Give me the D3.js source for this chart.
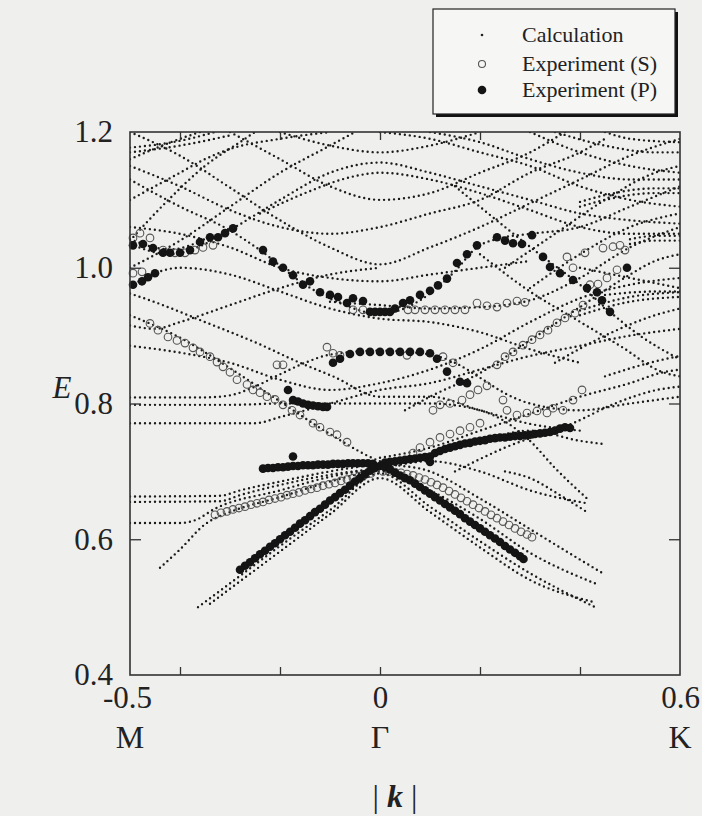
<!DOCTYPE html>
<html>
<head>
<meta charset="utf-8">
<script src="https://cdn.jsdelivr.net/npm/d3@7"></script>
<style>
body { margin: 0; background: #efefee; }
svg { display: block; font-family: "Liberation Serif", "Times New Roman", serif; }
</style>
</head>
<body>
<script>
// axis ticks and labels
var kTicks = [-0.4, -0.2, 0, 0.2, 0.4];
var kLabels = [-0.5, 0, 0.6];
var kPointNames = ["M", "\u0393", "K"];
var eTicks = [0.6, 0.8, 1.0];
var eLabels = [0.4, 0.6, 0.8, 1.0, 1.2];
var legendNames = ["Calculation", "Experiment (S)", "Experiment (P)"];

// calculated bands [k, E]
var calcBands = [
  // lower V around Gamma
  [[-0.364,0.50],[-0.3,0.535],[-0.2,0.59],[-0.1,0.643],[0,0.697],[0.1,0.648],[0.2,0.597],[0.3,0.55],[0.43,0.50]],
  [[-0.34,0.505],[-0.3,0.527],[-0.2,0.582],[-0.1,0.637],[0,0.69],[0.1,0.64],[0.2,0.588],[0.3,0.54],[0.43,0.507]],
  [[-0.44,0.558],[-0.4,0.585],[-0.35,0.622],[-0.3,0.64],[-0.2,0.662],[-0.1,0.685],[0,0.70],[0.1,0.672],[0.2,0.63],[0.3,0.58],[0.43,0.535]],
  [[-0.5,0.624],[-0.4,0.624],[-0.37,0.628],[-0.33,0.645],[-0.2,0.672],[-0.1,0.692],[0,0.705]],
  [[-0.5,0.655],[-0.32,0.656],[-0.28,0.665],[-0.2,0.68],[-0.1,0.695],[0,0.705],[0.1,0.715],[0.2,0.70],[0.3,0.672],[0.414,0.653]],
  [[-0.5,0.663],[-0.32,0.664],[-0.28,0.672],[-0.2,0.685],[-0.1,0.70],[0,0.712],[0.1,0.725],[0.2,0.745],[0.3,0.76],[0.4,0.745],[0.45,0.74]],
  [[0.25,0.70],[0.3,0.69],[0.36,0.665],[0.414,0.64]],
  // middle region
  [[-0.5,0.93],[-0.4,0.897],[-0.3,0.852],[-0.2,0.803],[-0.1,0.755],[0,0.715],[0.1,0.70],[0.2,0.66],[0.3,0.615],[0.4,0.57],[0.45,0.548]],
  [[-0.5,0.962],[-0.46,0.952],[-0.35,0.92],[-0.246,0.889],[-0.16,0.86],[-0.094,0.84],[0,0.81],[0.1,0.81],[0.2,0.79],[0.3,0.77],[0.4,0.76]],
  [[-0.5,0.809],[-0.35,0.809],[-0.3,0.812],[-0.25,0.825],[-0.2,0.843],[-0.15,0.86],[-0.1,0.872],[0,0.878],[0.1,0.872],[0.15,0.86],[0.2,0.838],[0.25,0.815],[0.3,0.80],[0.4,0.79],[0.5,0.80],[0.6,0.81]],
  [[-0.5,0.798],[-0.3,0.798],[-0.2,0.80],[-0.1,0.80],[0,0.80],[0.1,0.80],[0.2,0.79],[0.3,0.745],[0.35,0.705],[0.414,0.66]],
  [[-0.5,0.771],[-0.25,0.771],[-0.2,0.78],[-0.1,0.80],[0,0.82],[0.1,0.83],[0.2,0.85],[0.3,0.87],[0.4,0.885],[0.5,0.9],[0.6,0.91]],
  [[-0.5,0.915],[-0.45,0.91],[-0.4,0.92],[-0.3,0.945],[-0.2,0.97],[-0.1,0.99],[0,1.0]],
  [[-0.5,0.885],[-0.4,0.875],[-0.3,0.86],[-0.2,0.835],[-0.1,0.82],[0,0.83],[0.1,0.85],[0.2,0.88],[0.3,0.92],[0.4,0.955],[0.5,0.975],[0.6,0.985]],
  [[0,0.72],[0.1,0.735],[0.2,0.76],[0.3,0.785],[0.4,0.81],[0.5,0.83],[0.566,0.846],[0.6,0.85]],
  [[0.15,0.70],[0.25,0.735],[0.386,0.771],[0.47,0.80],[0.554,0.82],[0.6,0.825]],
  [[0.15,1.12],[0.25,1.06],[0.326,1.016],[0.4,0.975],[0.46,0.935],[0.52,0.90],[0.6,0.865]],
  [[0.2,1.02],[0.3,0.965],[0.394,0.923],[0.48,0.885],[0.566,0.846],[0.6,0.84]],
  [[0.05,0.79],[0.1,0.81],[0.2,0.845],[0.3,0.893],[0.4,0.942],[0.5,0.99],[0.55,1.01],[0.6,1.02]],
  [[-0.1,0.95],[0,0.945],[0.1,0.94],[0.2,0.942],[0.3,0.952],[0.4,0.985],[0.5,1.03],[0.6,1.06]],
  [[0.35,0.86],[0.45,0.90],[0.55,0.93],[0.6,0.94]],
  [[0.45,0.84],[0.55,0.862],[0.6,0.87]],
  [[0.4,0.93],[0.5,0.95],[0.6,0.957]],
  [[0.4,0.937],[0.5,0.957],[0.6,0.964]],
  // upper region
  [[-0.5,1.13],[-0.4,1.09],[-0.3,1.055],[-0.24,1.026],[-0.15,0.975],[-0.08,0.948],[0,0.932],[0.08,0.952],[0.15,0.995],[0.194,1.03],[0.25,1.045],[0.3,1.05],[0.4,1.06],[0.5,1.09],[0.6,1.12]],
  [[-0.5,1.035],[-0.42,1.02],[-0.35,1.035],[-0.294,1.058],[-0.2,1.10],[-0.1,1.14],[0,1.155],[0.1,1.14],[0.2,1.12],[0.3,1.10],[0.4,1.08],[0.5,1.07],[0.6,1.065]],
  [[-0.5,1.042],[-0.42,1.027],[-0.35,1.042]],
  [[-0.5,0.972],[-0.45,0.992],[-0.4,1.0],[-0.3,0.99],[-0.2,0.965],[-0.1,0.94],[0,0.925],[0.1,0.92],[0.2,0.905],[0.3,0.88],[0.4,0.86]],
  [[-0.5,1.2],[-0.4,1.165],[-0.3,1.118],[-0.2,1.07],[-0.1,1.03],[0,1.005],[0.1,1.03],[0.2,1.06],[0.3,1.095],[0.4,1.13],[0.5,1.165],[0.6,1.19]],
  [[-0.5,1.04],[-0.43,1.095],[-0.35,1.15],[-0.27,1.19],[-0.25,1.2]],
  [[-0.5,1.15],[-0.4,1.12],[-0.3,1.085],[-0.2,1.06],[-0.1,1.05],[0,1.06],[0.1,1.08],[0.2,1.10],[0.3,1.14],[0.4,1.17],[0.45,1.19]],
  [[-0.5,1.17],[-0.4,1.18],[-0.3,1.195]],
  [[-0.5,1.177],[-0.4,1.187],[-0.33,1.2]],
  [[-0.2,1.2],[-0.1,1.18],[0,1.17],[0.1,1.18],[0.2,1.2]],
  [[-0.24,1.08],[-0.15,1.11],[-0.05,1.135],[0,1.14],[0.1,1.13],[0.2,1.11],[0.3,1.085],[0.4,1.06],[0.5,1.05],[0.6,1.05]],
  [[0.3,1.2],[0.4,1.17],[0.5,1.15],[0.6,1.14]],
  [[0.35,1.2],[0.45,1.18],[0.55,1.17],[0.6,1.17]],
  [[0.4,1.09],[0.45,1.10],[0.55,1.11],[0.6,1.11]],
  [[0.4,1.097],[0.45,1.107],[0.55,1.117],[0.6,1.117]],
  [[0.4,1.0],[0.5,0.985],[0.6,0.97]],
  [[0.45,0.96],[0.55,0.965],[0.6,0.965]],
  [[-0.5,1.1],[-0.45,1.12],[-0.4,1.14],[-0.35,1.16],[-0.3,1.175],[-0.2,1.19],[-0.1,1.2]],
  [[-0.5,1.16],[-0.4,1.19],[-0.36,1.2]],
  [[-0.5,1.0],[-0.4,1.04],[-0.3,1.09],[-0.2,1.14],[-0.1,1.18],[-0.05,1.2]],
  [[-0.5,1.06],[-0.4,1.05],[-0.3,1.03],[-0.2,1.0],[-0.1,0.985],[0,0.98],[0.1,0.99],[0.2,1.0],[0.3,1.01]],
  [[-0.3,1.2],[-0.2,1.16],[-0.1,1.12],[0,1.10],[0.1,1.11],[0.2,1.14],[0.3,1.17],[0.37,1.2]],
  [[0,1.2],[0.1,1.19],[0.2,1.17],[0.3,1.15],[0.4,1.12],[0.5,1.10],[0.6,1.09]],
  [[0.1,1.2],[0.2,1.185],[0.3,1.16],[0.4,1.14],[0.5,1.13],[0.6,1.13]],
  [[0.25,1.0],[0.35,1.05],[0.45,1.10],[0.55,1.14],[0.6,1.15]],
  [[0.3,0.97],[0.4,1.02],[0.5,1.06],[0.6,1.08]],
  [[0.45,1.2],[0.5,1.19],[0.6,1.185]],
  [[0.5,1.035],[0.55,1.04],[0.6,1.04]],
  [[0.5,1.042],[0.55,1.047],[0.6,1.047]]
];

// experiment, S polarisation (open circles) [k, E]
var expS = [
  [-0.494,1.044],[-0.48,1.051],[-0.46,1.044],[-0.494,0.992],[-0.476,0.994],
  [-0.434,1.026],[-0.41,1.022],[-0.39,1.022],[-0.37,1.026],[-0.354,1.03],[-0.334,1.033],
  [-0.46,0.918],[-0.444,0.908],[-0.424,0.898],[-0.406,0.893],[-0.39,0.889],[-0.374,0.882],[-0.36,0.876],[-0.34,0.869],
  [-0.326,0.861],[-0.314,0.854],[-0.3,0.846],[-0.286,0.835],[-0.266,0.828],[-0.254,0.82],[-0.24,0.816],[-0.226,0.81],
  [-0.21,0.806],[-0.194,0.798],[-0.176,0.79],[-0.16,0.783],[-0.134,0.771],[-0.12,0.765],[-0.1,0.758],[-0.086,0.754],[-0.066,0.743],
  [-0.206,0.857],[-0.194,0.857],[-0.106,0.883],[-0.094,0.874],[-0.08,0.871],[-0.054,0.938],[-0.034,0.938],
  [-0.33,0.636],[-0.318,0.639],[-0.306,0.641],[-0.294,0.644],[-0.282,0.646],[-0.27,0.648],[-0.258,0.651],[-0.246,0.653],
  [-0.234,0.655],[-0.222,0.658],[-0.21,0.66],[-0.198,0.662],[-0.186,0.665],[-0.174,0.667],[-0.162,0.669],[-0.15,0.672],
  [-0.138,0.674],[-0.126,0.676],[-0.114,0.679],[-0.102,0.681],[-0.09,0.683],[-0.078,0.686],[-0.066,0.688],[-0.054,0.69],
  [-0.042,0.693],[-0.03,0.695],[-0.018,0.697],
  [0.006,0.70],[0.018,0.70],[0.03,0.699],[0.042,0.698],[0.054,0.696],[0.066,0.694],[0.078,0.691],[0.09,0.688],[0.102,0.684],
  [0.114,0.68],[0.126,0.676],[0.138,0.671],[0.15,0.666],[0.162,0.661],[0.174,0.656],[0.186,0.651],[0.198,0.646],[0.21,0.641],
  [0.222,0.636],[0.234,0.631],[0.246,0.626],[0.258,0.621],[0.27,0.616],[0.282,0.611],[0.294,0.607],[0.304,0.603],
  [0.066,0.727],[0.08,0.735],[0.1,0.743],[0.12,0.75],[0.14,0.755],[0.16,0.76],[0.18,0.765],[0.2,0.771],
  [0.106,0.79],[0.12,0.798],[0.14,0.80],[0.164,0.805],[0.18,0.813],[0.196,0.82],[0.214,0.826],
  [0.246,0.805],[0.254,0.79],[0.274,0.783],[0.294,0.786],[0.314,0.789],[0.334,0.786],[0.346,0.793],[0.366,0.79],[0.386,0.805],[0.404,0.82],
  [0.234,0.857],[0.25,0.869],[0.266,0.876],[0.286,0.886],[0.304,0.894],[0.32,0.901],[0.336,0.908],[0.354,0.919],[0.37,0.926],[0.39,0.933],[0.406,0.945],
  [0.056,0.938],[0.07,0.938],[0.09,0.938],[0.11,0.938],[0.13,0.938],[0.15,0.938],[0.17,0.938],[0.194,0.948],[0.214,0.944],
  [0.234,0.942],[0.254,0.948],[0.274,0.951],[0.29,0.949],
  [0.054,0.871],[0.126,0.869],[0.146,0.86],
  [0.374,1.016],[0.386,1.0],[0.41,1.022],[0.446,1.029],[0.466,1.031],[0.48,1.033],[0.49,1.026],[0.474,0.997],[0.454,0.985],[0.436,0.976],[0.42,0.975]
];

// experiment, P polarisation (filled circles) [k, E]
var expP = [
  [-0.494,1.033],[-0.474,1.035],[-0.454,1.029],[-0.434,1.022],[-0.42,1.022],[-0.40,1.022],[-0.38,1.026],[-0.36,1.038],
  [-0.34,1.045],[-0.324,1.045],[-0.31,1.051],[-0.294,1.058],
  [-0.494,0.975],[-0.476,0.98],[-0.464,0.986],[-0.45,0.992],
  [-0.234,1.026],[-0.214,1.009],[-0.194,1.0],[-0.174,0.989],[-0.154,0.975],[-0.14,0.98],[-0.12,0.964],[-0.10,0.96],
  [-0.084,0.957],[-0.066,0.948],[-0.054,0.955],[-0.034,0.951],[-0.02,0.935],[-0.01,0.935],[0,0.935],[0.01,0.935],[0.02,0.935],
  [0.03,0.94],[0.046,0.948],[0.06,0.952],[0.08,0.96],[0.1,0.966],[0.116,0.974],[0.134,0.984],[0.154,1.007],[0.174,1.02],[0.194,1.033],
  [0.234,1.045],[0.25,1.04],[0.266,1.036],[0.284,1.035],[0.304,1.048],
  [0.326,1.016],[0.34,1.001],[0.36,0.992],[0.386,0.982],[0.414,0.97],[0.434,0.964],[0.444,0.952],[0.46,0.935],
  [0.494,1.0],
  [-0.094,0.86],[-0.08,0.866],[-0.06,0.873],[-0.04,0.876],[-0.02,0.876],[0,0.876],[0.02,0.876],[0.04,0.876],[0.06,0.876],
  [0.08,0.876],[0.1,0.874],[0.114,0.866],[0.134,0.847],[0.16,0.832],[0.174,0.83],
  [-0.184,0.82],[-0.174,0.805],[-0.164,0.803],[-0.154,0.80],[-0.144,0.798],[-0.134,0.797],[-0.124,0.796],[-0.114,0.795],[-0.106,0.795],
  [-0.234,0.704],[-0.224,0.705],[-0.214,0.705],[-0.204,0.706],[-0.194,0.706],[-0.184,0.707],[-0.174,0.708],[-0.164,0.708],
  [-0.154,0.709],[-0.144,0.709],[-0.134,0.709],[-0.124,0.71],[-0.114,0.71],[-0.104,0.71],[-0.094,0.711],[-0.084,0.711],
  [-0.074,0.711],[-0.064,0.712],[-0.054,0.712],[-0.044,0.712],[-0.034,0.712],[-0.024,0.712],[-0.014,0.711],[-0.174,0.722],
  [0.01,0.713],[0.02,0.714],[0.03,0.715],[0.04,0.716],[0.05,0.717],[0.06,0.718],[0.07,0.719],[0.08,0.72],[0.09,0.721],
  [0.10,0.722],[0.11,0.727],[0.12,0.73],[0.13,0.733],[0.14,0.735],[0.15,0.737],[0.16,0.739],[0.17,0.741],[0.18,0.742],
  [0.19,0.744],[0.20,0.745],[0.21,0.746],[0.22,0.748],[0.23,0.749],[0.24,0.75],[0.25,0.75],[0.26,0.751],[0.27,0.752],
  [0.28,0.752],[0.29,0.753],[0.30,0.754],[0.31,0.755],[0.32,0.756],[0.33,0.757],[0.34,0.758],[0.35,0.76],[0.36,0.763],
  [0.37,0.765],[0.38,0.764],[0.10,0.714],
  [-0.28,0.555],[-0.27,0.561],[-0.26,0.566],[-0.25,0.572],[-0.24,0.578],[-0.23,0.583],[-0.22,0.589],[-0.21,0.594],
  [-0.20,0.60],[-0.19,0.606],[-0.18,0.611],[-0.17,0.617],[-0.16,0.623],[-0.15,0.628],[-0.14,0.634],[-0.13,0.64],
  [-0.12,0.645],[-0.11,0.651],[-0.10,0.657],[-0.09,0.662],[-0.08,0.668],[-0.07,0.673],[-0.06,0.679],[-0.05,0.685],
  [-0.04,0.69],[-0.03,0.696],[-0.02,0.701],[-0.01,0.705],[0,0.708],
  [0.01,0.706],[0.02,0.703],[0.03,0.698],[0.04,0.694],[0.05,0.69],[0.06,0.687],[0.07,0.682],[0.08,0.677],[0.09,0.672],
  [0.10,0.667],[0.11,0.662],[0.12,0.657],[0.13,0.652],[0.14,0.647],[0.15,0.642],[0.16,0.637],[0.17,0.631],[0.18,0.626],
  [0.19,0.621],[0.20,0.616],[0.21,0.611],[0.22,0.606],[0.23,0.601],[0.24,0.596],[0.25,0.59],[0.26,0.585],[0.27,0.58],
  [0.28,0.575],[0.287,0.571]
];

var w = 702, h = 816;
var svg = d3.select("body").append("svg").attr("width", w).attr("height", h);

var x = d3.scaleLinear().domain([-0.5, 0.6]).range([130, 680]);
var y = d3.scaleLinear().domain([0.4, 1.2]).range([675, 132]);
var ink = "#222";

svg.append("clipPath").attr("id", "plot")
  .append("rect").attr("x", 130).attr("y", 132).attr("width", 550).attr("height", 543);

// calculated bands as dotted curves
var line = d3.line()
  .x(function(d){ return x(d[0]); })
  .y(function(d){ return y(d[1]); })
  .curve(d3.curveMonotoneX);

svg.append("g").attr("clip-path", "url(#plot)")
  .selectAll("path.calc")
  .data(calcBands)
  .enter()
  .append("path")
  .attr("class", "calc")
  .attr("d", line)
  .attr("fill", "none")
  .attr("stroke", "#1c1c1c")
  .attr("stroke-width", 2.4)
  .attr("stroke-linecap", "round")
  .attr("stroke-dasharray", "0 5");

// experiment points
svg.append("g").selectAll("circle.s")
  .data(expS).enter().append("circle")
  .attr("cx", function(d){ return x(d[0]); })
  .attr("cy", function(d){ return y(d[1]); })
  .attr("r", 3.8)
  .attr("fill", "none")
  .attr("stroke", "#555")
  .attr("stroke-width", 1.1);

svg.append("g").selectAll("circle.p")
  .data(expP).enter().append("circle")
  .attr("cx", function(d){ return x(d[0]); })
  .attr("cy", function(d){ return y(d[1]); })
  .attr("r", 4.3)
  .attr("fill", "#141414");

// frame
svg.append("rect").attr("x", 130).attr("y", 132).attr("width", 550).attr("height", 543)
  .attr("fill", "none").attr("stroke", "#333").attr("stroke-width", 1.6);

// inward ticks
function ticks(axis, pos){
  var g = svg.append("g").attr("transform", pos).call(axis);
  g.select(".domain").remove();
  g.selectAll("line").attr("stroke", "#333").attr("stroke-width", 1.3);
  return g;
}
ticks(d3.axisBottom(x).tickValues(kTicks).tickSize(-8).tickFormat(""), "translate(0,675)");
ticks(d3.axisTop(x).tickValues(kTicks).tickSize(-8).tickFormat(""), "translate(0,132)");
ticks(d3.axisLeft(y).tickValues(eTicks).tickSize(-11).tickFormat(""), "translate(130,0)");
ticks(d3.axisRight(y).tickValues(eTicks).tickSize(-11).tickFormat(""), "translate(680,0)");

// tick labels
var xl = svg.append("g").attr("transform", "translate(0,675)")
  .call(d3.axisBottom(x).tickValues(kLabels).tickSize(0).tickPadding(11)
    .tickFormat(function(d){ return String(d); }));
xl.select(".domain").remove();
xl.selectAll("text").attr("font-size", 31).attr("font-family", "Liberation Serif").attr("fill", ink)
  .attr("dx", function(d){ return d < 0 ? -3 : 0; });

var yl = svg.append("g").attr("transform", "translate(130,0)")
  .call(d3.axisLeft(y).tickValues(eLabels).tickSize(0).tickPadding(17).tickFormat(d3.format(".1f")));
yl.select(".domain").remove();
yl.selectAll("text").attr("font-size", 31).attr("font-family", "Liberation Serif").attr("fill", ink);

svg.selectAll("text.sym")
  .data(kLabels).enter().append("text")
  .attr("class", "sym")
  .attr("x", function(d){ return x(d); })
  .attr("y", 748)
  .attr("text-anchor", "middle")
  .attr("font-size", 32)
  .attr("fill", ink)
  .text(function(d, i){ return kPointNames[i]; });

var kt = svg.append("text").attr("x", 395).attr("y", 807).attr("text-anchor", "middle")
  .attr("font-size", 32).attr("fill", ink);
kt.append("tspan").text("| ");
kt.append("tspan").attr("font-weight", "bold").attr("font-style", "italic").text("k");
kt.append("tspan").text(" |");

svg.append("text").attr("x", 62).attr("y", 398).attr("text-anchor", "middle")
  .attr("font-size", 31).attr("font-style", "italic").attr("fill", ink).text("E");

// legend
var lg = svg.append("g");
lg.append("rect").attr("x", 436).attr("y", 12).attr("width", 242).attr("height", 105).attr("fill", "#111");
lg.append("rect").attr("x", 433).attr("y", 9).attr("width", 242).attr("height", 105)
  .attr("fill", "#f6f6f5").attr("stroke", "#222").attr("stroke-width", 1.2);
var rows = [35, 64, 90];
lg.append("circle").attr("cx", 482).attr("cy", rows[0]).attr("r", 1.3).attr("fill", ink);
lg.append("circle").attr("cx", 482).attr("cy", rows[1]).attr("r", 3.5).attr("fill", "none").attr("stroke", "#555").attr("stroke-width", 1.1);
lg.append("circle").attr("cx", 482).attr("cy", rows[2]).attr("r", 4.3).attr("fill", "#141414");
lg.selectAll("text").data(legendNames).enter().append("text")
  .attr("x", 522)
  .attr("y", function(d, i){ return rows[i] + 7; })
  .attr("font-size", 22)
  .attr("fill", ink)
  .text(function(d){ return d; });
</script>
</body>
</html>
